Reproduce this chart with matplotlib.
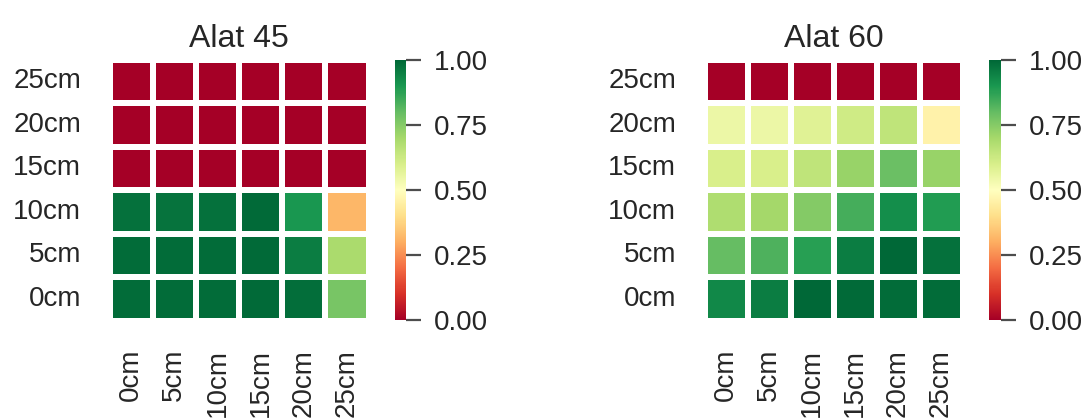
import numpy as np
import matplotlib
matplotlib.use("Agg")
import matplotlib.pyplot as plt
import seaborn as sns

# ------------------- DATA -------------------
depths_x = ["0cm", "5cm", "10cm", "15cm", "20cm", "25cm"]
depths_y = ["25cm", "20cm", "15cm", "10cm", "5cm", "0cm"]   # top to bottom

alat45 = [
    [0.00, 0.00, 0.00, 0.00, 0.00, 0.00],
    [0.00, 0.00, 0.00, 0.00, 0.00, 0.00],
    [0.00, 0.00, 0.00, 0.00, 0.00, 0.00],
    [0.98, 0.975, 0.98, 0.995, 0.90, 0.32],
    [0.99, 0.99, 0.99, 0.995, 0.955, 0.69],
    [0.99, 0.99, 0.99, 0.995, 0.985, 0.77],
]
alat60 = [
    [0.00, 0.00, 0.00, 0.00, 0.00, 0.00],
    [0.55, 0.55, 0.58, 0.62, 0.65, 0.46],
    [0.60, 0.60, 0.65, 0.72, 0.79, 0.72],
    [0.68, 0.70, 0.75, 0.84, 0.92, 0.89],
    [0.80, 0.83, 0.88, 0.955, 1.00, 0.98],
    [0.93, 0.955, 1.00, 0.995, 0.99, 0.99],
]
titles = ["Alat 45", "Alat 60"]
# ------------------------------------------------

plt.rcParams["font.family"] = ["Liberation Sans", "DejaVu Sans"]
TXT = "#262626"

W, H = 1089, 420
fig = plt.figure(figsize=(W / 100, H / 100), dpi=100)


def px_axes(x0, x1, y0, y1):
    return fig.add_axes([x0 / W, 1 - y1 / H, (x1 - x0) / W, (y1 - y0) / H])


layout = [
    ((109.5, 368.5), (395, 406)),
    ((704.5, 962.5), (989, 1001)),
]

for data, title, (hx, cx) in zip([alat45, alat60], titles, layout):
    ax = px_axes(hx[0], hx[1], 59.5, 320.5)
    cax = px_axes(cx[0], cx[1], 60, 320)
    sns.heatmap(np.array(data), ax=ax, cbar_ax=cax, cmap="RdYlGn",
                vmin=0, vmax=1, linewidths=3, linecolor="white",
                xticklabels=depths_x, yticklabels=depths_y)
    ax.set_title(title, fontsize=23, color=TXT, pad=9)
    ax.tick_params(axis="both", length=0, pad=20.5, labelsize=20, colors=TXT)
    ax.set_yticklabels(depths_y, rotation=0)
    ax.set_xticklabels(depths_x, rotation=90)
    cax.set_yticks([0, 0.25, 0.5, 0.75, 1.0])
    cax.set_yticklabels(["0.00", "0.25", "0.50", "0.75", "1.00"])
    cax.tick_params(axis="y", length=11, width=1.6, pad=9, labelsize=20,
                    color="#4d4d4d", labelcolor=TXT)
    for s in cax.spines.values():
        s.set_visible(False)

fig.savefig("out.png", dpi=100)
